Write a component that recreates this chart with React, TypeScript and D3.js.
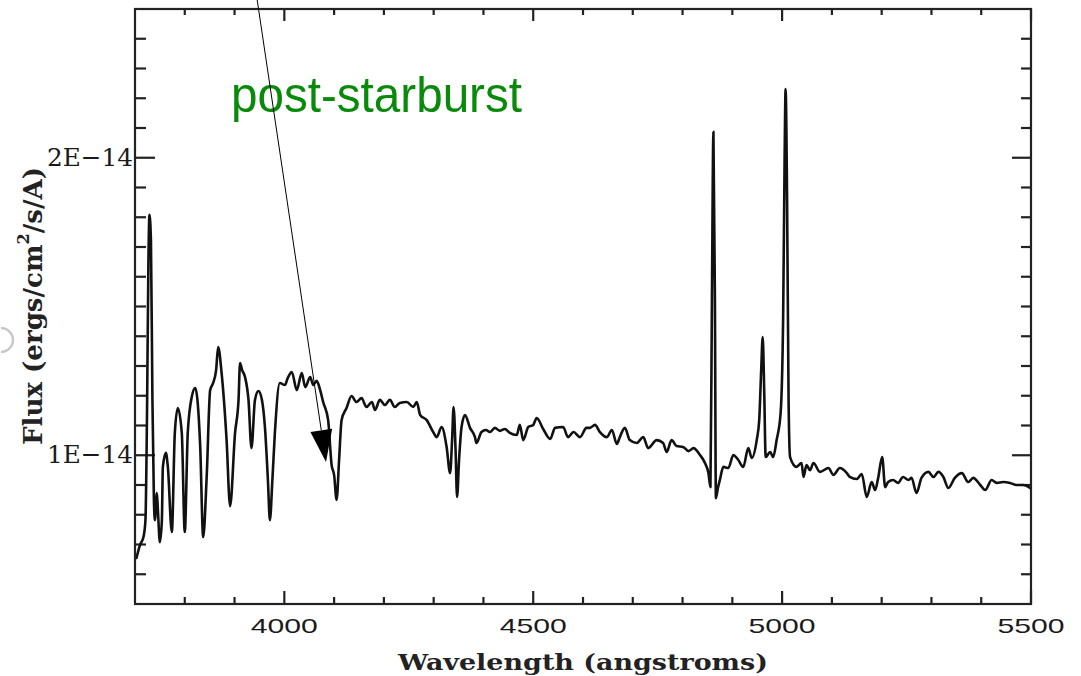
import React from "react";
import * as d3 from "d3";

// Spectrum: wavelength in angstroms, flux in units of 1E-14 ergs/cm^2/s/A
const wavelength = [
  3703, 3710, 3717, 3721, 3724, 3727, 3729, 3732, 3735, 3738, 3740, 3744, 3746, 3750, 3754, 3756,
  3762, 3766, 3774, 3780, 3786, 3794, 3800, 3806, 3814, 3821, 3831, 3837, 3844, 3851, 3857, 3863,
  3867, 3874, 3884, 3891, 3901, 3908, 3911, 3915, 3921, 3928, 3934, 3941, 3948, 3955, 3961, 3967,
  3971, 3976, 3981, 3991, 4001, 4007, 4015, 4025, 4035, 4042, 4052, 4058, 4065, 4072, 4078, 4088,
  4095, 4100, 4105, 4110, 4115, 4125, 4135, 4145, 4155, 4165, 4176, 4182, 4192, 4202, 4212, 4222,
  4232, 4246, 4259, 4266, 4273, 4286, 4299, 4306, 4316, 4326, 4333, 4337, 4340, 4344, 4347, 4351,
  4356, 4363, 4373, 4383, 4386, 4396, 4405, 4413, 4423, 4433, 4443, 4453, 4467, 4473, 4480, 4490,
  4500, 4507, 4520, 4534, 4544, 4560, 4570, 4581, 4594, 4607, 4614, 4624, 4634, 4648, 4658, 4668,
  4674, 4684, 4694, 4708, 4721, 4731, 4748, 4761, 4768, 4778, 4788, 4801, 4812, 4822, 4835, 4845,
  4852, 4856, 4859, 4862, 4865, 4867, 4871, 4875, 4882, 4892, 4902, 4912, 4922, 4932, 4939, 4949,
  4954, 4958, 4961, 4964, 4967, 4976, 4982, 4989, 4997, 5002, 5005, 5007, 5010, 5013, 5016, 5029,
  5039, 5043, 5049, 5056, 5063, 5076, 5093, 5103, 5116, 5130, 5136, 5150, 5160, 5170, 5180, 5187,
  5193, 5201, 5207, 5213, 5223, 5233, 5243, 5254, 5260, 5270, 5280, 5294, 5304, 5314, 5324, 5334,
  5347, 5361, 5374, 5384, 5398, 5408, 5421, 5431, 5444, 5458, 5471, 5485, 5498,
];

const flux = [
  0.655, 0.698, 0.725, 0.782, 1.118, 1.656, 1.808, 1.724, 1.186, 0.85, 0.782, 0.873, 0.816, 0.708, 0.782, 0.961,
  1.008, 0.961, 0.742, 1.075, 1.159, 1.075, 0.742, 1.075, 1.196, 1.226, 1.028, 0.725, 0.927, 1.219, 1.243, 1.287,
  1.364, 1.276, 1.051, 0.829, 1.075, 1.186, 1.31, 1.287, 1.263, 1.186, 1.024, 1.186, 1.216, 1.186, 1.095, 0.917,
  0.782, 0.917, 1.075, 1.243, 1.236, 1.26, 1.28, 1.219, 1.276, 1.229, 1.263, 1.236, 1.25, 1.219, 1.179, 1.118,
  0.967, 0.934, 0.85, 0.984, 1.118, 1.159, 1.199, 1.179, 1.192, 1.162, 1.179, 1.152, 1.186, 1.169, 1.186, 1.162,
  1.176, 1.179, 1.162, 1.179, 1.135, 1.118, 1.078, 1.061, 1.095, 1.028, 0.94, 1.051, 1.162, 1.018, 0.86, 0.984,
  1.095, 1.135, 1.092, 1.061, 1.041, 1.078, 1.085, 1.078, 1.092, 1.082, 1.088, 1.075, 1.068, 1.102, 1.051, 1.095,
  1.102, 1.125, 1.088, 1.055, 1.092, 1.095, 1.061, 1.078, 1.061, 1.092, 1.092, 1.102, 1.078, 1.061, 1.085, 1.038,
  1.061, 1.092, 1.051, 1.041, 1.061, 1.024, 1.051, 1.041, 1.011, 1.051, 1.031, 1.028, 1.014, 1.024, 1.001, 0.974,
  0.94, 0.893, 1.522, 2.087, 1.522, 0.856, 0.89, 0.917, 0.961, 0.957, 1.001, 0.984, 0.961, 1.024, 0.991, 1.051,
  1.118, 1.287, 1.397, 1.219, 0.994, 1.011, 0.994, 1.051, 1.142, 1.455, 1.992, 2.231, 1.858, 1.186, 0.994, 0.961,
  0.974, 0.927, 0.967, 0.95, 0.974, 0.944, 0.957, 0.934, 0.957, 0.94, 0.927, 0.92, 0.937, 0.86, 0.91, 0.883,
  0.924, 0.994, 0.893, 0.91, 0.917, 0.907, 0.927, 0.917, 0.924, 0.873, 0.924, 0.944, 0.927, 0.944, 0.927, 0.89,
  0.924, 0.94, 0.91, 0.924, 0.9, 0.883, 0.917, 0.907, 0.91, 0.907, 0.9, 0.9, 0.89,
];

const xMajorTicks = [4000, 4500, 5000, 5500];
const xTickLabels = ["4000", "4500", "5000", "5500"];
const xMinorTicks = [3800, 3900, 4100, 4200, 4300, 4400, 4600, 4700, 4800, 4900, 5100, 5200, 5300, 5400];
const yMajorTicks = [1, 2];
const yTickLabels = ["1E\u221214", "2E\u221214"];
const yMinorTicks = [0.6, 0.7, 0.8, 0.9, 1.1, 1.2, 1.3, 1.4, 1.5, 1.6, 1.7, 1.8, 1.9, 2.1, 2.2, 2.3, 2.4];

const annotation = "post-starburst";
const xTitle = "Wavelength (angstroms)";

const W = 1081;
const H = 676;
const left = 135;
const right = 1031;
const top = 9;
const bottom = 604;

export default function App() {
  const x = d3.scaleLinear().domain([3700, 5500]).range([left, right]);
  const y = d3.scaleLinear().domain([0.5, 2.5]).range([bottom, top]);

  const pts: [number, number][] = wavelength.map((w, i) => [w, flux[i]]);
  const line = d3
    .line<[number, number]>()
    .x((d) => x(d[0]))
    .y((d) => y(d[1]))
    .curve(d3.curveMonotoneX);

  const axisColor = "#222";
  const monoFont = "'DejaVu Serif', serif";

  // arrow geometry
  const tip: [number, number] = [326, 462];
  const start: [number, number] = [256, -8];
  const dx = tip[0] - start[0];
  const dy = tip[1] - start[1];
  const len = Math.hypot(dx, dy);
  const ux = dx / len;
  const uy = dy / len;
  const headLen = 32;
  const headHalf = 11;
  const bx = tip[0] - ux * headLen;
  const by = tip[1] - uy * headLen;
  const p1: [number, number] = [bx + uy * headHalf, by - ux * headHalf];
  const p2: [number, number] = [bx - uy * headHalf, by + ux * headHalf];

  return (
    <svg
      width={W}
      height={H}
      style={{ position: "fixed", left: 0, top: 0, background: "#fff" }}
    >
      <rect x={0} y={0} width={W} height={H} fill="#fff" />
      {/* faint artifact at left edge */}
      <path d="M 1 328 A 12 12 0 0 1 1 352" fill="none" stroke="#c8c8c8" strokeWidth={2.5} />

      {/* ticks */}
      <g stroke={axisColor} strokeWidth={2.2}>
        {xMinorTicks.map((t) => (
          <g key={"xm" + t}>
            <line x1={x(t)} x2={x(t)} y1={bottom} y2={bottom - 7} />
            <line x1={x(t)} x2={x(t)} y1={top} y2={top + 6} />
          </g>
        ))}
        {xMajorTicks.map((t) => (
          <g key={"xM" + t}>
            <line x1={x(t)} x2={x(t)} y1={bottom} y2={bottom - 13} />
            <line x1={x(t)} x2={x(t)} y1={top} y2={top + 12} />
          </g>
        ))}
        {yMinorTicks.map((t) => (
          <g key={"ym" + t}>
            <line x1={left} x2={left + 11} y1={y(t)} y2={y(t)} />
            <line x1={right} x2={right - 10} y1={y(t)} y2={y(t)} />
          </g>
        ))}
        {yMajorTicks.map((t) => (
          <g key={"yM" + t}>
            <line x1={left} x2={left + 20} y1={y(t)} y2={y(t)} />
            <line x1={right} x2={right - 19} y1={y(t)} y2={y(t)} />
          </g>
        ))}
      </g>

      {/* spectrum */}
      <path
        d={line(pts) || ""}
        fill="none"
        stroke="#111"
        strokeWidth={2.6}
        strokeLinejoin="round"
        strokeLinecap="round"
      />

      {/* frame */}
      <rect
        x={left}
        y={top}
        width={right - left}
        height={bottom - top}
        fill="none"
        stroke={axisColor}
        strokeWidth={2.2}
      />

      {/* x tick labels */}
      {xMajorTicks.map((t, i) => (
        <text
          key={"xl" + t}
          x={x(t)}
          y={633}
          textAnchor="middle"
          fontFamily="'Liberation Sans', Arial, sans-serif"
          fontSize={21}
          fill="#1a1a1a"
          textLength={67}
          lengthAdjust="spacingAndGlyphs"
        >
          {xTickLabels[i]}
        </text>
      ))}

      {/* y tick labels */}
      {yMajorTicks.map((t, i) => (
        <text
          key={"yl" + t}
          x={133}
          y={y(t) + 8}
          textAnchor="end"
          fontFamily={monoFont}
          fontSize={25}
          fill="#1a1a1a"
          textLength={86}
          lengthAdjust="spacingAndGlyphs"
        >
          {yTickLabels[i]}
        </text>
      ))}

      {/* x title */}
      <text
        x={583}
        y={670}
        textAnchor="middle"
        fontFamily={monoFont}
        fontWeight="bold"
        fontSize={23}
        fill="#222"
        textLength={370}
        lengthAdjust="spacingAndGlyphs"
      >
        {xTitle}
      </text>

      {/* y title */}
      <text
        transform="translate(42,306) rotate(-90)"
        textAnchor="middle"
        fontFamily={monoFont}
        fontWeight="bold"
        fontSize={26}
        fill="#222"
        textLength={278}
        lengthAdjust="spacingAndGlyphs"
      >
        Flux (ergs/cm
        <tspan dy={-13} fontSize={16}>2</tspan>
        <tspan dy={13}>/s/A)</tspan>
      </text>

      {/* annotation */}
      <text
        x={231}
        y={112}
        fontFamily="'Liberation Sans', Arial, sans-serif"
        fontSize={50}
        fill="#0a8a0a"
        textLength={291}
        lengthAdjust="spacingAndGlyphs"
      >
        {annotation}
      </text>
      <line x1={start[0]} y1={start[1]} x2={bx} y2={by} stroke="#000" strokeWidth={1} />
      <polygon points={`${tip[0]},${tip[1]} ${p1[0]},${p1[1]} ${p2[0]},${p2[1]}`} fill="#000" />
    </svg>
  );
}
